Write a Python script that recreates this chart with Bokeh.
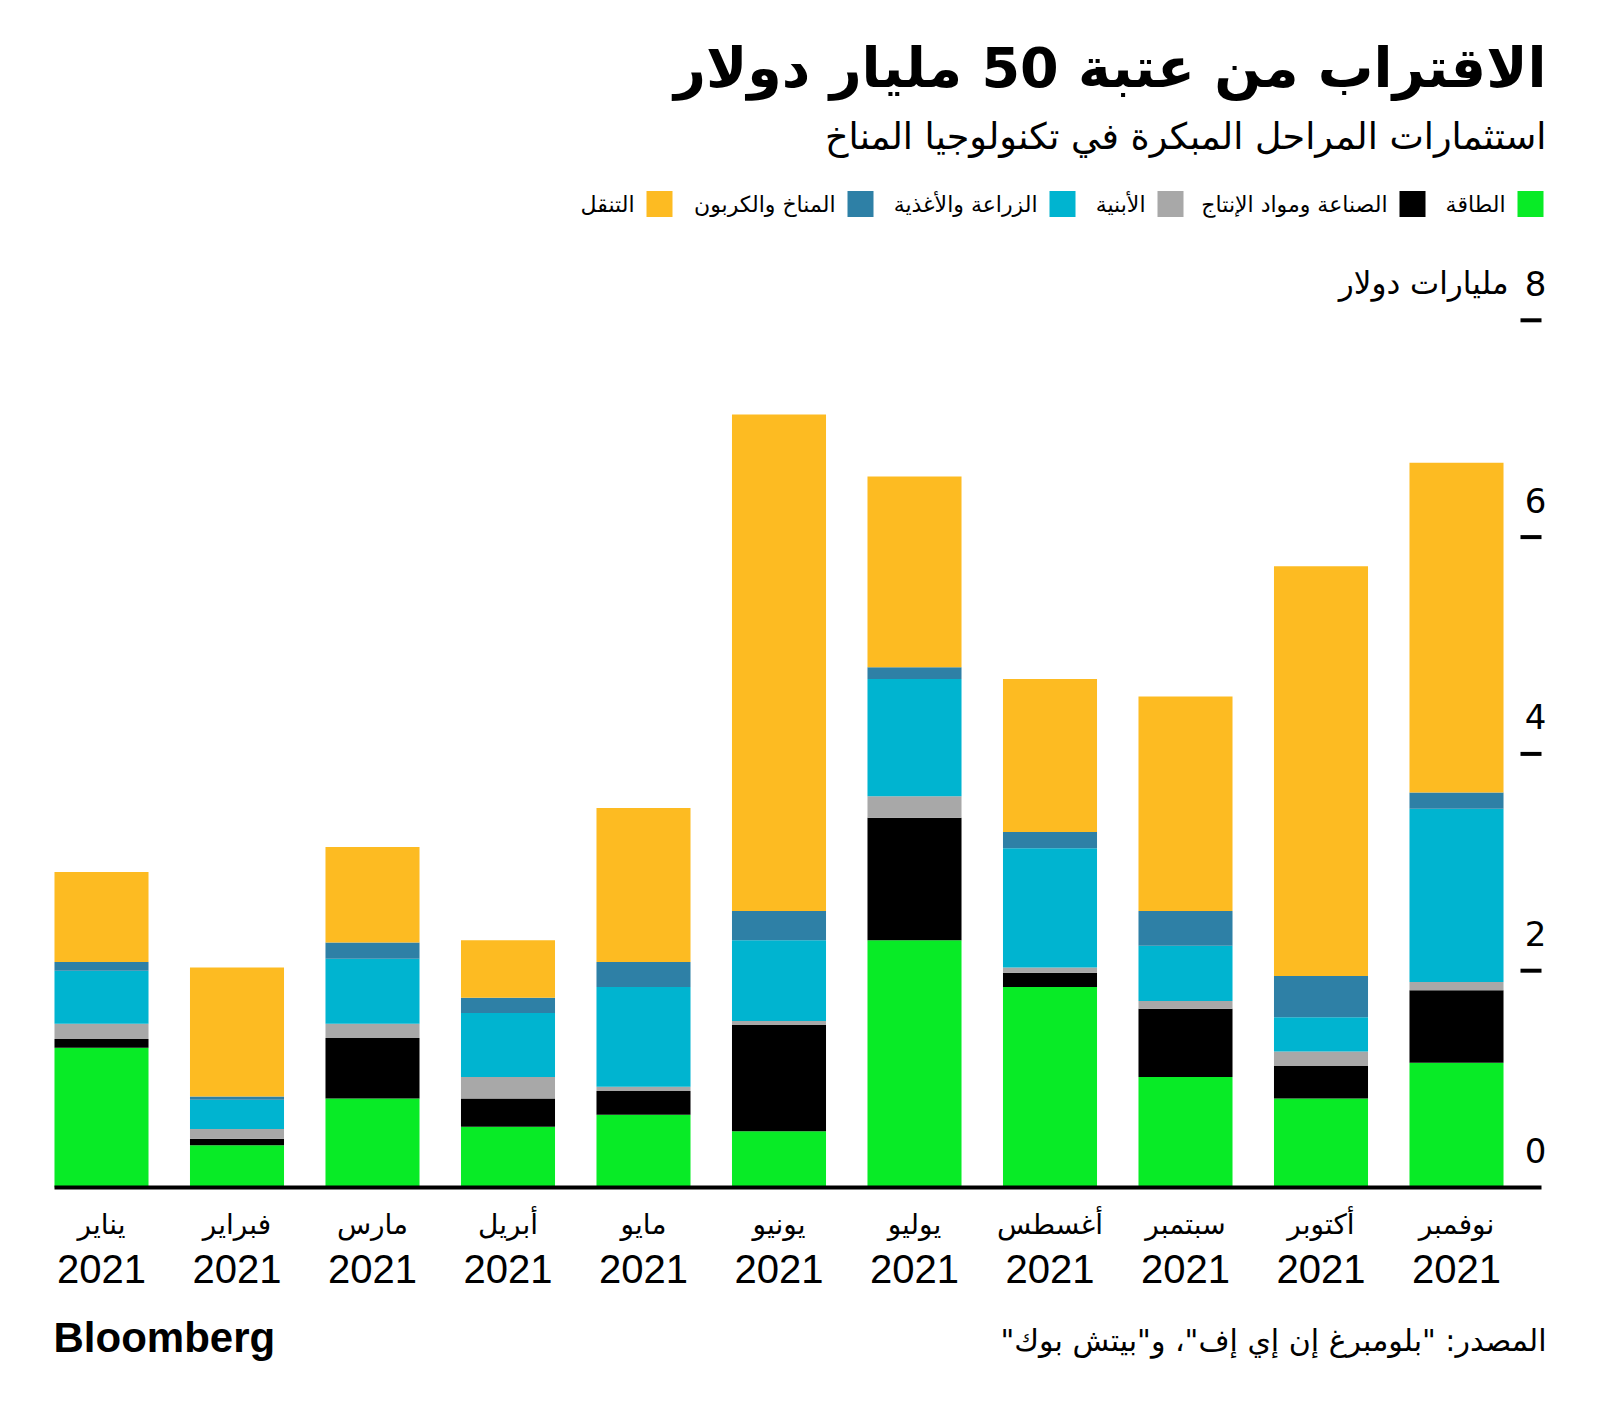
from bokeh.plotting import figure
from bokeh.models import Range1d, ColumnDataSource, Label
from bokeh.core.properties import value
from bokeh.embed import file_html
from bokeh.resources import INLINE

# ---------------- data ----------------
months = ["يناير", "فبراير", "مارس", "أبريل", "مايو", "يونيو",
          "يوليو", "أغسطس", "سبتمبر", "أكتوبر", "نوفمبر"]
years = ["2021"] * 11

energy    = [1.29, 0.39, 0.82, 0.56, 0.67, 0.52, 2.28, 1.85, 1.02, 0.82, 1.15]
industry  = [0.08, 0.06, 0.56, 0.26, 0.22, 0.98, 1.13, 0.13, 0.63, 0.30, 0.67]
buildings = [0.14, 0.09, 0.13, 0.20, 0.04, 0.035, 0.20, 0.05, 0.07, 0.135, 0.075]
agri      = [0.49, 0.27, 0.60, 0.59, 0.92, 0.745, 1.08, 1.10, 0.51, 0.315, 1.60]
climate   = [0.08, 0.03, 0.15, 0.14, 0.23, 0.27, 0.11, 0.15, 0.32, 0.38, 0.15]
transport = [0.83, 1.19, 0.88, 0.53, 1.42, 4.58, 1.76, 1.41, 1.98, 3.78, 3.04]

series_keys = ["energy", "industry", "buildings", "agri", "climate", "transport"]
series_names = ["الطاقة", "الصناعة ومواد الإنتاج", "الأبنية",
                "الزراعة والأغذية", "المناخ والكربون", "التنقل"]
colors = ["#08EB26", "#000000", "#A8A8A8", "#00B4D0", "#2E80A6", "#FDBB22"]

y_ticks = [0, 2, 4, 6, 8]
y_tick_labels = ["0", "2", "4", "6", "8"]
unit_label = "مليارات دولار"

title = "الاقتراب من عتبة 50 مليار دولار"
subtitle = "استثمارات المراحل المبكرة في تكنولوجيا المناخ"
source_text = "\u200fالمصدر: \"بلومبرغ إن إي إف\"، و\"بيتش بوك\"\u200f"
brand = "Bloomberg"

# ---------------- geometry helpers (page px -> data) ----------------
W, H = 1584, 1398
PX_PER_UNIT = 108.4
Y_ZERO = 1187.0
X_FIRST = 101.0
X_STEP = 135.5


def vy(Y):
    return (Y_ZERO - Y) / PX_PER_UNIT


def vx(X):
    return (X - X_FIRST) / X_STEP


AR = value("DejaVu Sans")
NUM = value("Liberation Sans")

p = figure(width=W, height=H, output_backend="svg", toolbar_location=None,
           x_range=Range1d(vx(0), vx(W)), y_range=Range1d(vy(H), vy(0)),
           min_border=0)
p.axis.visible = False
p.grid.visible = False
p.outline_line_color = None
p.background_fill_color = "white"
p.border_fill_color = "white"

# ---------------- stacked bars ----------------
src = ColumnDataSource(dict(x=list(range(len(months))), energy=energy, industry=industry,
                            buildings=buildings, agri=agri, climate=climate,
                            transport=transport))
p.vbar_stack(series_keys, x="x", width=0.694, color=colors, line_color=None, source=src)

# ---------------- baseline + y ticks ----------------
p.segment(x0=[vx(54)], y0=[0], x1=[vx(1541)], y1=[0], line_color="black", line_width=4)
tick_src = ColumnDataSource(dict(y=y_ticks[1:]))
p.segment(x0=vx(1520), y0="y", x1=vx(1541), y1="y", source=tick_src,
          line_color="black", line_width=4)
lab_src = ColumnDataSource(dict(y=[t + 37 / PX_PER_UNIT for t in y_ticks], lab=y_tick_labels))
p.text(x=vx(1546), y="y", text="lab", source=lab_src, text_align="right",
       text_baseline="middle", text_font=AR, text_font_size="34px", text_color="black")
p.add_layout(Label(x=vx(1508), y=y_ticks[-1] + 37 / PX_PER_UNIT, text=unit_label,
                   text_align="right", text_baseline="middle", text_font="DejaVu Sans",
                   text_font_size="31px", text_color="black"))

# ---------------- month labels ----------------
ms = ColumnDataSource(dict(x=list(range(len(months))), m=months, yr=years))
p.text(x="x", y=vy(1224), text="m", source=ms, text_align="center",
       text_baseline="middle", text_font=AR, text_font_size="28px", text_color="black")
p.text(x="x", y=vy(1268), text="yr", source=ms, text_align="center",
       text_baseline="middle", text_font=NUM, text_font_size="40px", text_color="black")

# ---------------- legend (right to left) ----------------
sq_centers = [1530, 1412, 1170, 1062, 860, 659]
SQ = 26
leg = ColumnDataSource(dict(x=[vx(c) for c in sq_centers],
                            tx=[vx(c - SQ / 2 - 12) for c in sq_centers],
                            name=series_names, color=colors))
p.rect(x="x", y=vy(203.5), width=SQ / X_STEP, height=SQ / PX_PER_UNIT, color="color",
       line_color=None, source=leg)
p.text(x="tx", y=vy(203.5), text="name", source=leg, text_align="right",
       text_baseline="middle", text_font=AR, text_font_size="22px", text_color="black")

# ---------------- titles & footer ----------------
p.add_layout(Label(x=vx(1546), y=vy(67), text=title, text_align="right",
                   text_baseline="middle", text_font="DejaVu Sans",
                   text_font_size="55.5px", text_font_style="bold", text_color="black"))
p.add_layout(Label(x=vx(1546), y=vy(136), text=subtitle, text_align="right",
                   text_baseline="middle", text_font="DejaVu Sans",
                   text_font_size="36.5px", text_color="black"))
p.add_layout(Label(x=vx(1546), y=vy(1340), text=source_text, text_align="right",
                   text_baseline="middle", text_font="DejaVu Sans",
                   text_font_size="30px", text_color="black"))
p.add_layout(Label(x=vx(53), y=vy(1337), text=brand, text_align="left",
                   text_baseline="middle", text_font="Liberation Sans",
                   text_font_size="42px", text_font_style="bold", text_color="black"))

open("out.html", "w").write(file_html(p, INLINE))
